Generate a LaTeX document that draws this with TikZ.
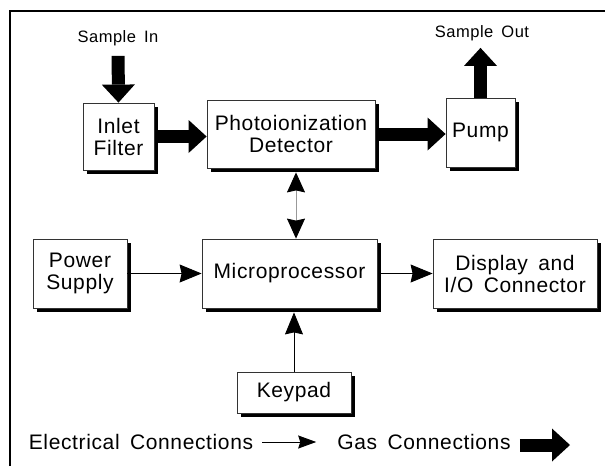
\documentclass[tikz,border=0pt]{standalone}
\usepackage{fontspec}
\setmainfont{Liberation Sans}[WordSpace=1.6,LetterSpace=3]
\usepackage{tikz}
\usetikzlibrary{positioning}
\usetikzlibrary{arrows.meta,shadows}

\begin{document}
\begin{tikzpicture}[x=1pt,y=-1pt]
   \useasboundingbox (0,0) rectangle (605,466);
   \tikzstyle{box}=[draw=black!80,line width=0.8pt,fill=white,align=center,inner sep=0pt,font=\fontsize{21}{22}\selectfont,drop shadow={shadow xshift=4pt,shadow yshift=-4pt,fill=black,opacity=1}];
   \tikzstyle{gas}=[line width=13pt,-{Triangle[length=18pt,width=33pt,line width=0pt]}];
   \tikzstyle{elec}=[line width=0.9pt,-{Stealth[length=22pt,width=18pt,inset=2pt]}];
   \tikzstyle{lbl}=[font=\fontsize{16.5}{18}\selectfont,inner sep=1pt];
   \tikzstyle{legend}=[font=\fontsize{21}{22}\selectfont,inner sep=1pt];
   \draw[line width=2.5pt] (10,466) -- (10,11) -- (605,11);
   \node[box,minimum width=71pt,minimum height=67pt] (inlet) at (118.5,136.5) {Inlet\\Filter};
   \node[box,minimum width=168pt,minimum height=68pt] (detector) at (291,134) {Photoionization\\Detector};
   \node[box,minimum width=69pt,minimum height=69pt] (pump) at (480.5,132.5) {Pump};
   \node[box,minimum width=94pt,minimum height=69pt] (power) at (80,273.5) {Power\\Supply};
   \node[box,minimum width=175pt,minimum height=69pt] (micro) at (289.5,273.5) {Microprocessor};
   \node[box,minimum width=164pt,minimum height=69pt] (display) at (515,273.5) {Display and\\I/O Connector};
   \node[box,minimum width=114pt,minimum height=41pt] (keypad) at (294,392.5) {Keypad};
   \node[lbl] (samplein) at (118,38) {Sample In};
   \node[lbl] (sampleout) at (482,33) {Sample Out};
   \node[legend] (eleclabel) at (141,442) {Electrical Connections};
   \node[legend] (gaslabel) at (424,442) {Gas Connections};
   \coordinate (gasend) at (570,445);
   \draw[gas,shorten <=9pt] (samplein.south) -- (inlet.north);
   \draw[gas,shorten <=4pt] (inlet.east) -- (detector.west |- inlet.east);
   \draw[gas,shorten <=4pt] (detector.east) -- (pump.west |- detector.east);
   \draw[gas,shorten >=6pt] (pump.north) -- (pump.north |- sampleout.south);
   \draw[draw=black!40,line width=0.9pt,{Stealth[black,length=20pt,width=18pt,inset=2pt]}-{Stealth[black,length=20pt,width=18pt,inset=2pt]},shorten <=4pt] ([xshift=5pt]detector.south) -- ([xshift=5pt]detector.south |- micro.north);
   \draw[elec] (power.east) -- (micro.west);
   \draw[elec,shorten <=4pt] (micro.east) -- (display.west);
   \draw[elec,shorten >=4pt] (keypad.north) -- (keypad.north |- micro.south);
   \draw[line width=0.9pt,-{Stealth[length=18pt,width=13pt,inset=2pt]},shorten <=8pt,shorten >=20pt] (eleclabel) -- (gaslabel);
   \draw[gas,shorten <=8pt] (gaslabel.east |- gasend) -- (gasend);
\end{tikzpicture}
\end{document}
